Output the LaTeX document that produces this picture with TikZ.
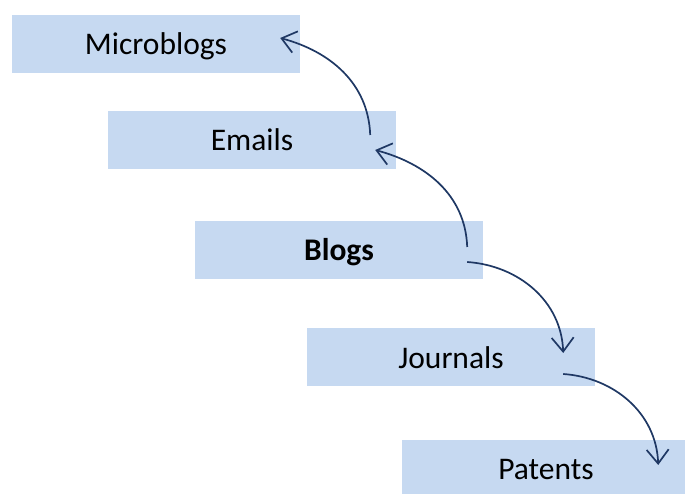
\documentclass[tikz,border=0pt]{standalone}
\usepackage{fontspec}
\setmainfont{Carlito}
\usetikzlibrary{arrows.meta}
\definecolor{boxfill}{RGB}{198,217,241}
\definecolor{arrowblue}{RGB}{31,56,100}
\tikzset{
  stage/.style={rectangle, fill=boxfill, minimum width=288pt, minimum height=58pt,
    inner sep=0pt, text height=24pt, text depth=2pt,
    font=\fontsize{31.5}{37}\selectfont, text=black},
  flow/.style={draw=arrowblue, line width=1.7pt,
    -{Straight Barb[length=14pt,width=22pt,line width=1.7pt]}},
}
\begin{document}
\begin{tikzpicture}[x=1pt,y=1pt]
  \useasboundingbox (0,0) rectangle (685,494);
  \clip (0,0) rectangle (685,494);
  % the five stages, stepping down to the right
  \node[stage] (M) at (156,450) {Microblogs};
  \node[stage] (E) at (252,354) {Emails};
  \node[stage] (B) at (339,244) {\textbf{Blogs}};
  \node[stage] (J) at (451,136.5) {Journals};
  \node[stage] (P) at (546,25) {Patents};
  % upward connectors
  \draw[flow] ([xshift=-26pt,yshift=5pt]E.east) to[out=92,in=-15] ([xshift=-20pt,yshift=6pt]M.east);
  \draw[flow] ([xshift=-16pt,yshift=3pt]B.east) to[out=92,in=-15] ([xshift=-21pt,yshift=-10pt]E.east);
  % downward connectors
  \draw[flow] ([xshift=-16pt,yshift=-12pt]B.east) to[out=-4,in=92] ([xshift=-32pt,yshift=4.5pt]J.east);
  \draw[flow] ([xshift=-32pt,yshift=-16.5pt]J.east) to[out=-4,in=92] ([xshift=-32pt,yshift=4pt]P.east);
\end{tikzpicture}
\end{document}
